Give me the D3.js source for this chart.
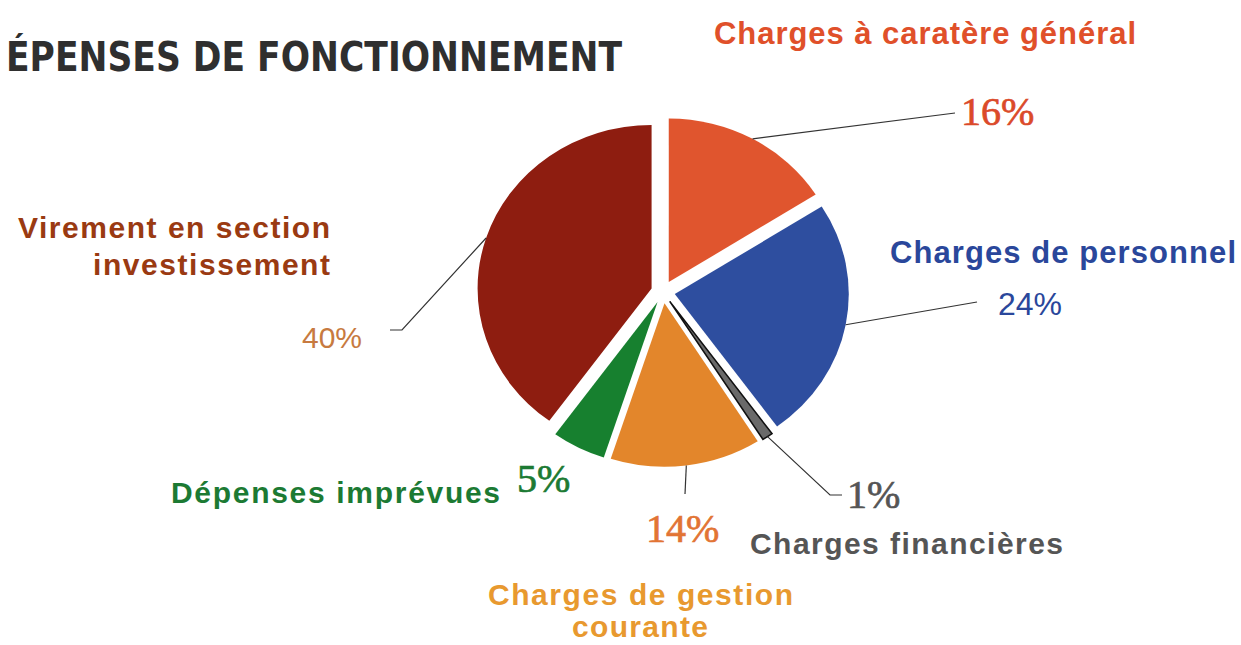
<!DOCTYPE html>
<html>
<head>
<meta charset="utf-8">
<script src="https://cdn.jsdelivr.net/npm/d3@7"></script>
<style>
  html, body { margin: 0; padding: 0; background: #fff; }
  svg { display: block; }
</style>
</head>
<body>
<svg id="chart" width="1241" height="645"></svg>
<script>
// ---- data ----
const categories = [
  "Charges à caratère général",
  "Charges de personnel",
  "Charges financières",
  "Charges de gestion courante",
  "Dépenses imprévues",
  "Virement en section investissement"
];
const values = [16, 24, 1, 14, 5, 40];
const percentLabels = ["16%", "24%", "1%", "14%", "5%", "40%"];
const sliceColors = ["#E0552E", "#2E4E9F", "#6A6A6A", "#E3862B", "#17802F", "#8E1D10"];
const titleText = "ÉPENSES DE FONCTIONNEMENT";

// ---- layout ----
const W = 1241, H = 645;
const cx = 663, cy = 292, R = 174, squash = 0.94, explode = 12;

const svg = d3.select("#chart");

svg.append("text")
  .attr("x", 6).attr("y", 71)
  .attr("textLength", 616).attr("lengthAdjust", "spacingAndGlyphs")
  .style("font-family", "'DejaVu Sans', sans-serif")
  .style("font-weight", "bold")
  .style("font-size", "40px")
  .style("fill", "#2f2f2f")
  .text(titleText);

const pie = d3.pie().sort(null).value(d => d);
const arcs = pie(values);
const arc = d3.arc().innerRadius(0).outerRadius(R);

const g = svg.append("g")
  .attr("transform", `translate(${cx},${cy}) scale(1,${squash})`);

function offset(d) {
  const a = (d.startAngle + d.endAngle) / 2;
  return [explode * Math.sin(a), -explode * Math.cos(a)];
}

g.selectAll("path.slice")
  .data(arcs)
  .join("path")
  .attr("class", "slice")
  .attr("d", arc)
  .attr("transform", d => { const o = offset(d); return `translate(${o[0]},${o[1]})`; })
  .attr("fill", (d, i) => sliceColors[i])
  .attr("stroke", (d, i) => i === 2 ? "#111" : "none")
  .attr("stroke-width", (d, i) => i === 2 ? 1.6 : 0);

// outer mid-point of each slice in page coordinates
function anchor(d) {
  const a = (d.startAngle + d.endAngle) / 2;
  const o = offset(d);
  const x = o[0] + R * Math.sin(a);
  const y = o[1] - R * Math.cos(a);
  return [cx + x, cy + y * squash];
}

// leader line bends (layout)
const leaderBends = {
  0: [[955, 113]],
  1: [[977, 302]],
  2: [[830, 495], [842, 495]],
  3: [[685, 494]],
  5: [[402, 330], [390, 330]]
};
const line = d3.line();
Object.keys(leaderBends).forEach(k => {
  const i = +k;
  const pts = [anchor(arcs[i])].concat(leaderBends[k]);
  svg.append("path")
    .attr("d", line(pts))
    .attr("fill", "none")
    .attr("stroke", "#333")
    .attr("stroke-width", 1.2);
});

// ---- labels ----
const sans = "'Liberation Sans', Arial, sans-serif";
const serif = "'Liberation Serif', 'Times New Roman', serif";

function label(txt, x, y, opts) {
  const t = svg.append("text")
    .attr("x", x).attr("y", y)
    .style("font-family", opts.family || sans)
    .style("font-weight", opts.weight || "bold")
    .style("font-size", opts.size + "px")
    .style("fill", opts.color)
    .attr("text-anchor", opts.anchor || "start")
    .text(txt);
  if (opts.len) t.attr("textLength", opts.len).attr("lengthAdjust", "spacing");
  if (opts.thick) t.style("stroke", opts.color).style("stroke-width", opts.thick);
  return t;
}

// category names
label("Charges à caratère général", 714, 44, {size: 31, color: "#E0502A", len: 422});
label("Charges de personnel", 890, 263, {size: 31, color: "#2A479B", len: 346});
label("Charges financières", 750, 554, {size: 30, color: "#555555", len: 313});
label("Charges de gestion", 488, 605, {size: 30, color: "#E8992F", len: 305});
label("courante", 640, 637, {size: 30, color: "#E8992F", anchor: "middle", len: 136});
label("Dépenses imprévues", 171, 503, {size: 30, color: "#1C7A33", len: 329});
label("Virement en section", 18, 238, {size: 30, color: "#9A3A12", len: 312});
label("investissement", 330, 275, {size: 30, color: "#9A3A12", anchor: "end", len: 237});

// percentages
label(percentLabels[0], 961, 125, {size: 40, family: serif, weight: "normal", color: "#DB4A2A", thick: 0.7});
label(percentLabels[1], 998, 315, {size: 32, weight: "normal", color: "#2A479B"});
label(percentLabels[2], 847, 508, {size: 40, family: serif, weight: "normal", color: "#555555", thick: 0.7});
label(percentLabels[3], 646, 542, {size: 40, family: serif, weight: "normal", color: "#E27434", thick: 0.7});
label(percentLabels[4], 517, 492, {size: 40, family: serif, weight: "normal", color: "#1C7A33", thick: 0.7});
label(percentLabels[5], 302, 348, {size: 30, weight: "normal", color: "#C77A40"});
</script>
</body>
</html>
